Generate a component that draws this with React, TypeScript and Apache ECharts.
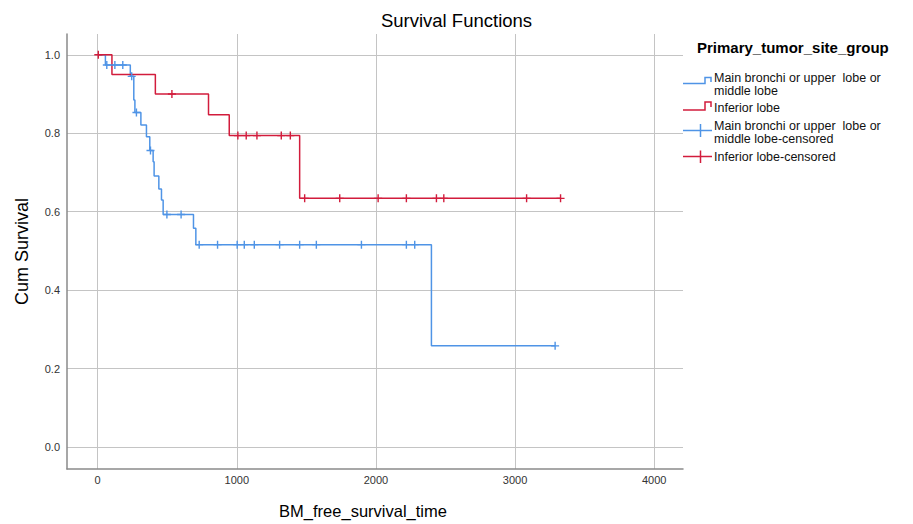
import React, { useEffect, useRef } from "react";
import * as echarts from "echarts";

// Kaplan-Meier steps (time, survival after the step)
const blueTimes = [0, 56, 235, 260, 268, 311, 351, 375, 399, 406, 440, 459, 471, 689, 706, 2399, 3288];
const blueSurv = [1, 0.974, 0.945, 0.885, 0.853, 0.821, 0.791, 0.756, 0.727, 0.691, 0.658, 0.63, 0.593, 0.558, 0.516, 0.258, 0.258];
const blueCensored = [66, 124, 181, 245, 279, 380, 498, 600, 730, 862, 1003, 1054, 1126, 1308, 1452, 1572, 1896, 2219, 2279, 3288];

const redTimes = [0, 103, 415, 797, 946, 1452, 3327];
const redSurv = [1, 0.95, 0.9, 0.847, 0.794, 0.634, 0.634];
const redCensored = [5, 534, 1008, 1068, 1145, 1320, 1385, 1488, 1740, 2016, 2219, 2435, 2488, 3083, 3327];

const seriesNames = [
  "Main bronchi or upper  lobe or middle lobe",
  "Inferior lobe",
  "Main bronchi or upper  lobe or middle lobe-censored",
  "Inferior lobe-censored",
];

const BLUE = "#4F94E6";
const RED = "#D21C3C";
const FONT = '"Liberation Sans", Arial, sans-serif';

function stepAt(times: number[], surv: number[], t: number): number {
  let v = surv[0];
  for (let i = 0; i < times.length; i++) {
    if (times[i] <= t) v = surv[i];
  }
  return v;
}

const CROSS = "path://M3.3,0 h1.4 v3.3 h3.3 v1.4 h-3.3 v3.3 h-1.4 v-3.3 h-3.3 v-1.4 h3.3 z";

export default function App() {
  const ref = useRef<HTMLDivElement>(null);
  useEffect(() => {
    if (!ref.current) return;
    const chart = echarts.init(ref.current, undefined, { renderer: "svg" });
    const blueLine = blueTimes.map((t, i) => [t, blueSurv[i]]);
    const redLine = redTimes.map((t, i) => [t, redSurv[i]]);
    const blueCens = blueCensored.map((t) => [t, stepAt(blueTimes, blueSurv, t)]);
    const redCens = redCensored.map((t) => [t, stepAt(redTimes, redSurv, t)]);

    const lineOpts = (pts: number[][], color: string) => ({
      type: "polyline",
      shape: { points: pts },
      style: { stroke: color, lineWidth: 1.5, fill: null },
      silent: true,
    });
    const legendText = (text: string, x: number, y: number) => ({
      type: "text",
      x,
      y,
      style: {
        text,
        fontFamily: FONT,
        fontSize: 12.5,
        fill: "#111",
        verticalAlign: "middle",
        align: "left",
      },
      silent: true,
    });

    chart.setOption({
      animation: false,
      textStyle: { fontFamily: FONT },
      title: {
        text: "Survival Functions",
        left: "center",
        top: 11,
        padding: 0,
        textStyle: { fontFamily: FONT, fontSize: 18.5, fontWeight: "normal", color: "#000" },
      },
      grid: { left: 67, top: 34, right: 230, bottom: 54, containLabel: false },
      xAxis: {
        type: "value",
        min: -220,
        max: 4207,
        name: "BM_free_survival_time",
        nameLocation: "middle",
        nameGap: 33,
        nameTextStyle: { fontFamily: FONT, fontSize: 16.5, color: "#000", padding: [0, 24, 0, 0] },
        axisLine: { show: true, onZero: false, lineStyle: { color: "#8a8a8a", width: 1.5 } },
        axisTick: { show: false },
        axisLabel: {
          margin: 5,
          fontSize: 11,
          color: "#333",
          showMinLabel: false,
          showMaxLabel: false,
          formatter: (v: number) => (v % 1000 === 0 ? String(v) : ""),
        },
        splitLine: { show: true, showMinLine: false, showMaxLine: false, lineStyle: { color: "#c4c4c4", width: 1 } },
      },
      yAxis: {
        type: "value",
        min: -0.056,
        max: 1.053,
        name: "Cum Survival",
        nameLocation: "middle",
        nameGap: 36,
        nameRotate: 90,
        nameTextStyle: { fontFamily: FONT, fontSize: 18, color: "#000" },
        axisLine: { show: true, onZero: false, lineStyle: { color: "#8a8a8a", width: 1.5 } },
        axisTick: { show: false },
        axisLabel: {
          margin: 7,
          fontSize: 11,
          color: "#333",
          showMinLabel: false,
          showMaxLabel: false,
          formatter: (v: number) => {
            const r = Math.round(v * 10) / 10;
            return Math.abs(r - v) < 1e-6 ? r.toFixed(1) : "";
          },
        },
        splitLine: { show: true, showMinLine: false, showMaxLine: false, lineStyle: { color: "#c4c4c4", width: 1 } },
      },
      series: [
        {
          name: seriesNames[0],
          type: "line",
          step: "end",
          data: blueLine,
          symbol: "none",
          lineStyle: { color: BLUE, width: 1.5 },
          z: 2,
        },
        {
          name: seriesNames[1],
          type: "line",
          step: "end",
          data: redLine,
          symbol: "none",
          lineStyle: { color: RED, width: 1.5 },
          z: 3,
        },
        {
          name: seriesNames[2],
          type: "scatter",
          data: blueCens,
          symbol: CROSS,
          symbolSize: 8,
          itemStyle: { color: BLUE, opacity: 1 },
          z: 4,
        },
        {
          name: seriesNames[3],
          type: "scatter",
          data: redCens,
          symbol: CROSS,
          symbolSize: 8,
          itemStyle: { color: RED, opacity: 1 },
          z: 5,
        },
      ],
      graphic: [
        {
          type: "text",
          x: 697,
          y: 47.5,
          style: {
            text: "Primary_tumor_site_group",
            fontFamily: FONT,
            fontSize: 15,
            fontWeight: "bold",
            fill: "#000",
            verticalAlign: "middle",
            align: "left",
          },
          silent: true,
        },
        lineOpts([[683, 83.5], [705, 83.5], [705, 77.5], [711, 77.5], [711, 82]], BLUE),
        legendText("Main bronchi or upper  lobe or", 714, 77.5),
        legendText("middle lobe", 714, 91),
        lineOpts([[683, 110], [705, 110], [705, 102], [711, 102], [711, 107]], RED),
        legendText("Inferior lobe", 714, 107.5),
        lineOpts([[683, 130.5], [712, 130.5]], BLUE),
        lineOpts([[700.5, 124], [700.5, 137]], BLUE),
        legendText("Main bronchi or upper  lobe or", 714, 125.5),
        legendText("middle lobe-censored", 714, 139),
        lineOpts([[683, 156.5], [712, 156.5]], RED),
        lineOpts([[700.5, 150.5], [700.5, 163]], RED),
        legendText("Inferior lobe-censored", 714, 156.5),
      ],
    });
    return () => chart.dispose();
  }, []);
  return (
    <div
      ref={ref}
      style={{ position: "absolute", left: 0, top: 0, width: 913, height: 524, background: "#fff" }}
    />
  );
}
